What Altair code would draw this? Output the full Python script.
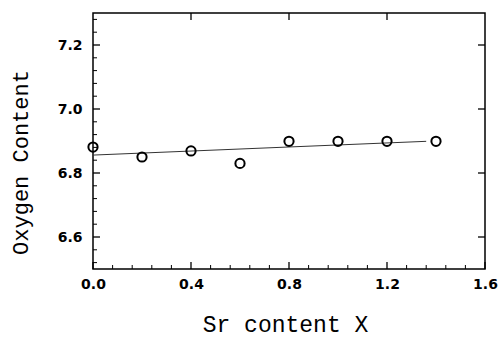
import altair as alt
import pandas as pd

# Data
sr_content = [0.0, 0.2, 0.4, 0.6, 0.8, 1.0, 1.2, 1.4]
oxygen = [6.881, 6.850, 6.869, 6.830, 6.899, 6.899, 6.899, 6.899]
fit_x = [0.0, 1.36]
fit_y = [6.856, 6.899]

x_major = [0.0, 0.4, 0.8, 1.2, 1.6]
x_top = [0.4, 0.8, 1.2]
x_minor = [0.08, 0.16, 0.24, 0.32, 0.48, 0.56, 0.64, 0.72, 0.88, 0.96, 1.04, 1.12, 1.28, 1.36, 1.44, 1.52]
y_major = [6.6, 6.8, 7.0, 7.2]
y_minor = [6.52, 6.56, 6.64, 6.68, 6.72, 6.76, 6.84, 6.88, 6.92, 6.96, 7.04, 7.08, 7.12, 7.16, 7.24, 7.28]

W, H = 392, 256
TICK_COLOR = "black"

pts = pd.DataFrame({"x": sr_content, "y": oxygen})
fit = pd.DataFrame({"x": fit_x, "y": fit_y})

xs = alt.Scale(domain=[0.0, 1.6], nice=False, zero=False)
ys = alt.Scale(domain=[6.5, 7.3], nice=False, zero=False)

LABEL_FONT = "DejaVu Sans"
TITLE_FONT = "Liberation Mono"

x_axis = alt.Axis(orient="bottom", values=x_major, format=".1f", ticks=False, tickSize=0,
                  domain=False, grid=False,
                  labelFont=LABEL_FONT, labelFontWeight="bold", labelFontSize=14,
                  labelColor="black", labelPadding=8, labelFlush=False,
                  title="Sr content  X", titleFont=TITLE_FONT, titleFontSize=23,
                  titleFontWeight="normal", titleColor="black",
                  titleX=192, titleY=62, titleAlign="center", titleBaseline="alphabetic")
y_axis = alt.Axis(orient="left", values=y_major, format=".1f", ticks=False, tickSize=0,
                  domain=False, grid=False,
                  labelFont=LABEL_FONT, labelFontWeight="bold", labelFontSize=14,
                  labelColor="black", labelPadding=11, labelFlush=False,
                  title="Oxygen Content", titleFont=TITLE_FONT, titleFontSize=22,
                  titleFontWeight="normal", titleColor="black", titleAngle=270,
                  titleX=-73, titleY=149, titleAlign="center", titleBaseline="middle")

points = alt.Chart(pts).mark_point(shape="circle", filled=False, size=85,
                                   stroke="black", strokeWidth=2, opacity=1).encode(
    x=alt.X("x:Q", scale=xs, axis=x_axis),
    y=alt.Y("y:Q", scale=ys, axis=y_axis),
)

line = alt.Chart(fit).mark_line(color="#333333", strokeWidth=1).encode(
    x=alt.X("x:Q", scale=xs, axis=x_axis),
    y=alt.Y("y:Q", scale=ys, axis=y_axis),
)


def xticks(values, y0, y1, width):
    return alt.Chart(pd.DataFrame({"x": values})).mark_rule(
        color=TICK_COLOR, strokeWidth=width).encode(
        x=alt.X("x:Q", scale=xs, axis=x_axis),
        y=alt.value(y0), y2=alt.value(y1))


def yticks(values, x0, x1, width):
    return alt.Chart(pd.DataFrame({"y": values})).mark_rule(
        color=TICK_COLOR, strokeWidth=width).encode(
        y=alt.Y("y:Q", scale=ys, axis=y_axis),
        x=alt.value(x0), x2=alt.value(x1))


ticks = [
    xticks(x_major, H - 7, H, 1.3),
    xticks(x_minor, H - 4, H, 1),
    xticks(x_top, 0, 7, 1.3),
    yticks(y_major, 0, 7, 1.3),
    yticks(y_minor, 0, 4, 1),
    yticks(y_major, W - 7, W, 1.3),
]

chart = alt.layer(line, points, *ticks).properties(
    width=W, height=H,
    autosize=alt.AutoSizeParams(type="none"),
    padding={"left": 93, "top": 13, "right": 14, "bottom": 68},
    background="white",
).configure_view(stroke="black", strokeWidth=1.5)

chart.save("out.html", embed_options={"renderer": "svg", "actions": False})
